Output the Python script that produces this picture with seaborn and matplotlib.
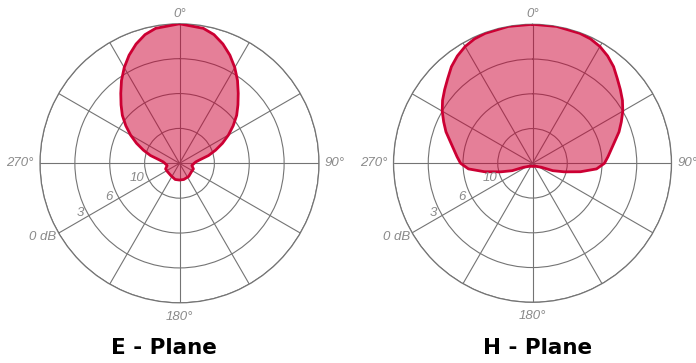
import numpy as np
import pandas as pd
import matplotlib
matplotlib.use("Agg")
import matplotlib.pyplot as plt
import seaborn as sns

# ---- data (radial positions on the 4-ring grid: 1=10 dB, 2=6 dB, 3=3 dB, 4=0 dB) ----
e_angles = [0, 10, 15, 20, 25, 30, 35, 40, 45, 50, 55, 60, 65, 70, 75, 80, 85, 90,
            100, 112, 125, 145, 165, 180, 195, 215, 235, 248, 260, 270,
            275, 280, 285, 290, 295, 300, 305, 310, 315, 320, 325, 330, 335, 340, 345, 350, 360]
e_values = [4.0, 3.93, 3.82, 3.64, 3.42, 3.17, 2.9, 2.62, 2.37, 2.14, 1.88, 1.62, 1.36, 1.1, 0.86, 0.6, 0.47, 0.42,
            0.36, 0.43, 0.42, 0.46, 0.48, 0.48, 0.48, 0.43, 0.42, 0.43, 0.36, 0.42,
            0.47, 0.6, 0.86, 1.1, 1.36, 1.62, 1.88, 2.14, 2.37, 2.62, 2.9, 3.17, 3.42, 3.64, 3.82, 3.93, 4.0]

h_angles = [0, 10, 20, 25, 30, 35, 40, 45, 50, 55, 60, 65, 70, 76, 80, 85, 90, 95, 100, 105, 110,
            114, 120, 135, 150, 165, 180, 195, 210, 225, 240, 246,
            250, 255, 260, 265, 270, 275, 280, 284, 290, 295, 300, 305, 310, 315, 320, 325, 330, 335, 340, 350, 360]
h_values = [4.0, 4.0, 3.98, 3.95, 3.88, 3.77, 3.63, 3.45, 3.3, 3.16, 3.0, 2.82, 2.65, 2.42, 2.3, 2.18, 2.07, 1.85, 1.4, 0.95, 0.62,
            0.28, 0.2, 0.12, 0.1, 0.09, 0.09, 0.09, 0.1, 0.12, 0.2, 0.28,
            0.62, 0.95, 1.4, 1.85, 2.07, 2.18, 2.3, 2.42, 2.65, 2.82, 3.0, 3.16, 3.3, 3.45, 3.63, 3.77, 3.88, 3.95, 3.98, 4.0, 4.0]

ring_positions = [1, 2, 3, 4]
ring_labels = ["10", "6", "3", "0 dB"]
spoke_angles = list(range(0, 360, 30))
angle_labels = ["0°", "90°", "180°", "270°"]
titles = ["E - Plane", "H - Plane"]

# ---- style ----
sns.set_theme(style="white")
plt.rcParams["font.family"] = ["Liberation Sans", "DejaVu Sans"]

EDGE = "#CC0033"
GRID = "#747474"
LABEL = "#8a8a8a"

fig = plt.figure(figsize=(6.96, 3.63), dpi=100)

W, H = 696.0, 363.0
axes_specs = [
    # (center x, center y (from top), radius) in pixels
    (179.5, 163.3, 139.5),
    (532.5, 163.3, 139.0),
]
title_pos = [(164, 348), (538, 348)]
# label radial offsets (in ring units) for 0°, 90°, 180°, 270°
angle_label_r = [
    [4.29, 4.46, 4.4, 4.57],
    [4.31, 4.47, 4.4, 4.56],
]
# radial label placement (theta deg, r)
rlabel_pos = [(250.8, 1.3), (244.4, 2.25), (243.4, 3.19), (241.6, 4.45)]

datasets = [(e_angles, e_values), (h_angles, h_values)]

for i, ((cx, cy, R), (angs, vals)) in enumerate(zip(axes_specs, datasets)):
    rect = [(cx - R) / W, (H - cy - R) / H, 2 * R / W, 2 * R / H]
    ax = fig.add_axes(rect, projection="polar")
    ax.set_theta_zero_location("N")
    ax.set_theta_direction(-1)
    ax.set_ylim(0, 4)
    ax.set_yticks(ring_positions)
    ax.set_yticklabels([])
    ax.set_xticks(np.deg2rad(spoke_angles))
    ax.set_xticklabels([])
    ax.grid(True, color=GRID, linewidth=0.8)
    ax.spines["polar"].set_color(GRID)
    ax.spines["polar"].set_linewidth(0.9)
    ax.set_facecolor("white")
    ax.set_axisbelow(True)

    df = pd.DataFrame({"theta": np.deg2rad(angs), "r": vals})
    ax.fill(df["theta"], df["r"], color=EDGE, alpha=0.5, lw=0, zorder=2)
    sns.lineplot(data=df, x="theta", y="r", ax=ax, sort=False, estimator=None,
                 color=EDGE, linewidth=2.0, zorder=3)
    ax.set_xlabel("")
    ax.set_ylabel("")

    for deg, lab, rr in zip([0, 90, 180, 270], angle_labels, angle_label_r[i]):
        ax.text(np.deg2rad(deg), rr, lab, ha="center", va="center", fontsize=9.5,
                style="italic", color=LABEL, clip_on=False)
    for (deg, rr), lab in zip(rlabel_pos, ring_labels):
        ax.text(np.deg2rad(deg), rr, lab, ha="center", va="center", fontsize=9.5,
                style="italic", color=LABEL, clip_on=False, zorder=4)

    tx, ty = title_pos[i]
    fig.text(tx / W, 1 - ty / H, titles[i], ha="center", va="center", fontsize=15.5,
             fontweight="bold", color="black", family="DejaVu Sans")

fig.savefig("out.png", dpi=100, facecolor="white")
